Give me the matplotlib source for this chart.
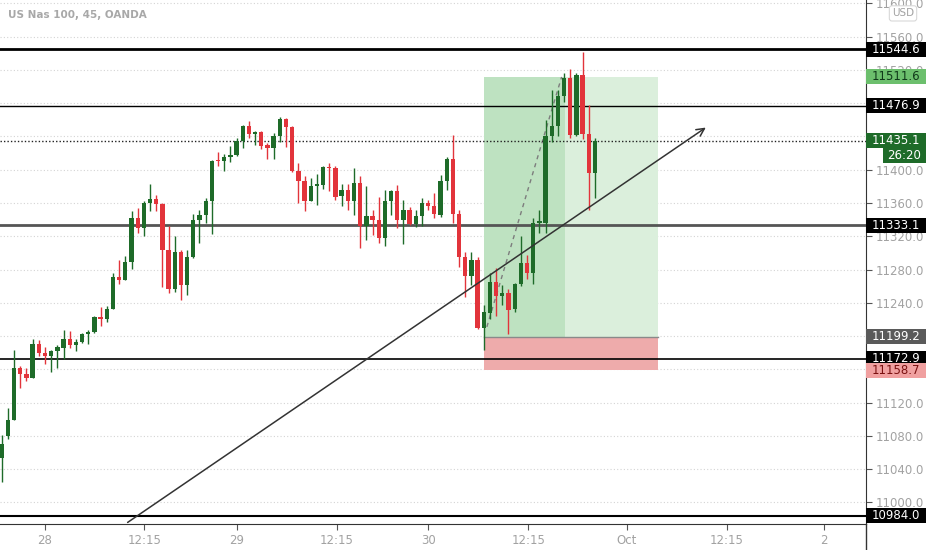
import matplotlib
matplotlib.use("Agg")
import matplotlib.pyplot as plt
import matplotlib.transforms as mtransforms
from matplotlib.patches import Rectangle
from matplotlib.lines import Line2D

# 45 min candles, US Nas 100 (OANDA)
opens = [11053, 11080, 11099, 11161, 11154, 11149, 11190, 11180, 11176, 11182,
         11186, 11197, 11189, 11193, 11202, 11205, 11223, 11221, 11233, 11271,
         11268, 11289, 11342, 11330, 11360, 11365, 11359, 11304, 11256, 11301,
         11261, 11295, 11340, 11346, 11363, 11411, 11410, 11415, 11418, 11435,
         11453, 11443, 11445, 11430, 11426, 11441, 11461, 11451, 11398, 11387,
         11362, 11381, 11382, 11403, 11402, 11368, 11376, 11362, 11384, 11332,
         11344, 11339, 11318, 11362, 11374, 11339, 11352, 11335, 11344, 11360,
         11356, 11346, 11387, 11413, 11347, 11295, 11272, 11292, 11210, 11228,
         11265, 11248, 11252, 11232, 11262, 11288, 11276, 11336, 11336, 11440,
         11453, 11489, 11510, 11442, 11514, 11443, 11396]
highs = [11081, 11113, 11183, 11164, 11162, 11197, 11195, 11187, 11183, 11189,
         11207, 11206, 11196, 11204, 11207, 11224, 11235, 11236, 11276, 11292,
         11296, 11350, 11354, 11362, 11383, 11370, 11360, 11332, 11320, 11304,
         11304, 11347, 11352, 11366, 11412, 11421, 11419, 11428, 11438, 11454,
         11458, 11446, 11446, 11432, 11444, 11464, 11462, 11453, 11408, 11392,
         11390, 11395, 11405, 11408, 11404, 11383, 11383, 11402, 11392, 11380,
         11352, 11367, 11376, 11376, 11382, 11364, 11355, 11351, 11366, 11364,
         11372, 11394, 11415, 11442, 11352, 11301, 11301, 11295, 11237, 11276,
         11282, 11261, 11257, 11264, 11320, 11298, 11342, 11352, 11460, 11496,
         11496, 11516, 11521, 11516, 11541, 11478, 11438]
lows = [11025, 11076, 11099, 11137, 11146, 11149, 11176, 11166, 11157, 11162,
        11173, 11186, 11182, 11192, 11190, 11204, 11212, 11217, 11233, 11263,
        11267, 11281, 11324, 11320, 11350, 11350, 11259, 11252, 11253, 11243,
        11249, 11294, 11312, 11336, 11323, 11404, 11399, 11409, 11417, 11426,
        11438, 11430, 11425, 11413, 11413, 11433, 11427, 11397, 11360, 11350,
        11362, 11358, 11377, 11374, 11364, 11356, 11352, 11346, 11306, 11316,
        11322, 11312, 11308, 11346, 11330, 11311, 11334, 11331, 11332, 11351,
        11342, 11343, 11376, 11336, 11283, 11247, 11261, 11209, 11183, 11220,
        11224, 11237, 11203, 11229, 11260, 11269, 11263, 11324, 11324, 11433,
        11440, 11482, 11438, 11440, 11437, 11352, 11366]
closes = [11070, 11099, 11161, 11154, 11149, 11190, 11180, 11176, 11182, 11187,
          11197, 11189, 11193, 11202, 11205, 11223, 11221, 11233, 11271, 11268,
          11289, 11342, 11330, 11360, 11365, 11359, 11304, 11257, 11301, 11261,
          11295, 11340, 11346, 11363, 11411, 11410, 11415, 11418, 11435, 11453,
          11443, 11445, 11429, 11426, 11441, 11461, 11451, 11398, 11387, 11362,
          11381, 11382, 11403, 11402, 11367, 11376, 11362, 11384, 11332, 11344,
          11339, 11318, 11363, 11374, 11339, 11352, 11335, 11344, 11360, 11356,
          11347, 11387, 11413, 11347, 11295, 11272, 11292, 11210, 11229, 11265,
          11248, 11252, 11231, 11262, 11288, 11276, 11336, 11338, 11440, 11453,
          11489, 11510, 11442, 11514, 11443, 11396, 11435.1]

level_lines = [11544.6, 11476.9, 11333.1, 11172.9, 10984.0]
last_price = 11435.1
countdown = "26:20"

# long position tool
entry = 11199.2
target = 11511.6
stop = 11158.7
pos_start = 78
pos_hit = 91.1
pos_end = 106.2
path_from = (78.5, 11211)

# trend line with arrow
trend_from = (20.0, 10974)
trend_to = (114.3, 11452.6)

time_ticks = [6.94, 23.1, 38.0, 54.2, 69.0, 85.2, 101.1, 117.3, 133.1]
time_labels = ["28", "12:15", "29", "12:15", "30", "12:15", "Oct", "12:15", "2"]
price_ticks = list(range(11000, 11601, 40))

green = "#1e6b29"
red = "#e2343b"
gray_txt = "#a2a2a2"

fig = plt.figure(figsize=(9.32, 5.5), dpi=100)
ax = fig.add_axes([0, 26 / 550, 866 / 932, 524 / 550])
ax.set_xlim(-0.28, 139.85)
ax.set_ylim(10974, 11604.1)

for v in price_ticks:
    ax.axhline(v, color="#d4d4d4", lw=0.8, ls=(0, (1, 2)), zorder=0)

# position boxes
ax.add_patch(Rectangle((pos_start, entry), pos_hit - pos_start, target - entry,
                       fc="#bee2c1", ec="none", zorder=1))
ax.add_patch(Rectangle((pos_hit, entry), pos_end - pos_hit, target - entry,
                       fc="#dbefdc", ec="none", zorder=1))
ax.add_patch(Rectangle((pos_start, stop), pos_end - pos_start, entry - stop,
                       fc="#eeabab", ec="none", zorder=1))
ax.plot([pos_start, pos_end], [entry, entry], color="#8a8a8a", lw=1, zorder=2)
ax.plot([path_from[0], pos_hit - 0.5], [path_from[1], target], color="#7d7d7d",
        lw=1, ls=(0, (3, 3)), zorder=2)

# horizontal levels
styles = [(2.0, "#000000"), (1.0, "#000000"), (2.0, "#555555"), (1.2, "#000000"), (1.5, "#000000")]
for v, (lw, c) in zip(level_lines, styles):
    ax.axhline(v, color=c, lw=lw, zorder=3)
ax.axhline(last_price, color="#222222", lw=1, ls=(0, (1, 1.5)), zorder=3)

# candles
for i in range(len(opens)):
    o, h, l, c = opens[i], highs[i], lows[i], closes[i]
    col = green if c >= o else red
    ax.vlines(i, l, h, color=col, lw=1, zorder=4)
    bottom = min(o, c)
    height = max(abs(c - o), 1.5)
    ax.bar(i, height, bottom=bottom, width=0.7, color=col, lw=0, zorder=4)

ax.annotate("", xy=trend_to, xytext=trend_from,
            arrowprops=dict(arrowstyle="->", color="#333333", lw=1.1, mutation_scale=14),
            zorder=5)

for s in ["top", "left"]:
    ax.spines[s].set_visible(False)
ax.spines["right"].set_color("#333333")
ax.spines["bottom"].set_color("#333333")
fig.add_artist(Line2D([866 / 932, 866 / 932], [0, 26 / 550], color="#333333", lw=1))

# price labels on the scale
box_h = 18
box_w = 60 / 866
tags = [(11544.6, "#000000", "white"),
        (target, "#6cbf6d", "#10391a"),
        (11476.9, "#000000", "white"),
        (last_price, green, "white"),
        (11333.1, "#000000", "white"),
        (entry, "#5a5a5a", "white"),
        (11172.9, "#000000", "white"),
        (stop, "#f0a0a0", "#7a1010"),
        (10984.0, "#000000", "white")]

# scale labels that sit fully under a tag are hidden in the screenshot
tick_text = []
for v in price_ticks:
    hidden = any(abs(v - t[0]) < box_h * 0.45 for t in tags)
    tick_text.append("" if hidden else f"{v:.1f}")

ax.yaxis.tick_right()
ax.set_yticks(price_ticks)
ax.set_yticklabels(tick_text)
ax.tick_params(axis="y", labelsize=8.5, labelcolor=gray_txt, color="#555555", length=4, pad=3)
ax.set_xticks(time_ticks)
ax.set_xticklabels(time_labels)
ax.tick_params(axis="x", labelsize=8.5, labelcolor=gray_txt, color="#555555", length=4, pad=3)

trans = mtransforms.blended_transform_factory(ax.transAxes, ax.transData)
for v, fc, tc in tags:
    ax.add_patch(Rectangle((1.0, v - box_h / 2), box_w, box_h, transform=trans,
                           fc=fc, ec="none", clip_on=False, zorder=6))
    ax.text(1.0 + box_w / 2, v, f"{v:.1f}", transform=trans, ha="center", va="center",
            color=tc, fontsize=8.5, zorder=7, clip_on=False)

cd_y = last_price - box_h - 0.5
ax.add_patch(Rectangle((1.0 + 17 / 866, cd_y - box_h / 2), 43 / 866, box_h, transform=trans,
                       fc=green, ec="none", clip_on=False, zorder=6))
ax.text(1.0 + 38.5 / 866, cd_y, countdown, transform=trans, ha="center", va="center",
        color="white", fontsize=8.5, zorder=7, clip_on=False)

ax.text(1.0 + 37 / 866, 11588, "USD", transform=trans, ha="center", va="center",
        color=gray_txt, fontsize=7.5, zorder=7, clip_on=False,
        bbox=dict(boxstyle="round,pad=0.25", fc="white", ec="#d8d8d8", lw=0.8))

fig.text(8 / 932, 1 - 15 / 550, "US Nas 100, 45, OANDA", color="#a8a8a8",
         fontsize=7.5, fontweight="bold", va="center")

fig.savefig("out.png", dpi=100)
